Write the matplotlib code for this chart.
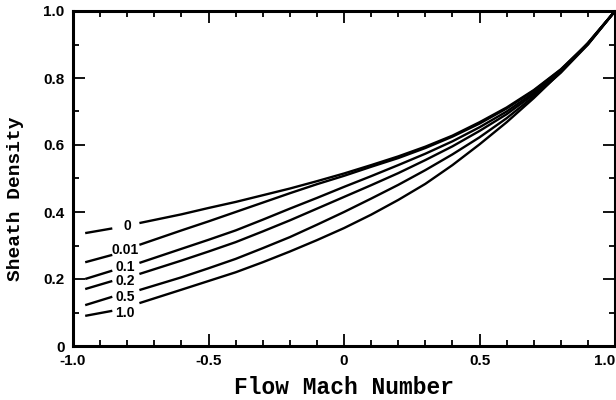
import numpy as np
import matplotlib.pyplot as plt
from matplotlib.ticker import MultipleLocator

# Mach number grid, nan marks the gap left for the curve labels
mach = [-0.955, -0.855, np.nan, -0.755, -0.6, -0.5, -0.4, -0.3, -0.2, -0.1, 0.0,
        0.1, 0.2, 0.3, 0.4, 0.5, 0.6, 0.7, 0.8, 0.9, 1.0]

n_0   = [0.337, 0.351, np.nan, 0.367, 0.393, 0.412, 0.430, 0.450, 0.470, 0.492, 0.515,
         0.540, 0.566, 0.595, 0.628, 0.668, 0.712, 0.764, 0.826, 0.904, 1.0]
n_001 = [0.250, 0.272, np.nan, 0.302, 0.345, 0.372, 0.400, 0.428, 0.456, 0.483, 0.508,
         0.535, 0.561, 0.591, 0.625, 0.664, 0.709, 0.762, 0.825, 0.903, 1.0]
n_01  = [0.200, 0.225, np.nan, 0.248, 0.290, 0.317, 0.345, 0.377, 0.410, 0.442, 0.475,
         0.507, 0.540, 0.574, 0.611, 0.653, 0.700, 0.756, 0.822, 0.902, 1.0]
n_02  = [0.170, 0.194, np.nan, 0.215, 0.255, 0.282, 0.310, 0.342, 0.375, 0.410, 0.445,
         0.480, 0.516, 0.555, 0.596, 0.642, 0.692, 0.751, 0.820, 0.901, 1.0]
n_05  = [0.122, 0.147, np.nan, 0.167, 0.205, 0.232, 0.260, 0.292, 0.325, 0.362, 0.400,
         0.440, 0.481, 0.525, 0.572, 0.623, 0.680, 0.745, 0.816, 0.900, 1.0]
n_10  = [0.090, 0.105, np.nan, 0.128, 0.168, 0.194, 0.220, 0.250, 0.282, 0.316, 0.352,
         0.392, 0.436, 0.484, 0.540, 0.602, 0.668, 0.740, 0.818, 0.905, 1.0]

krzywe = [n_0, n_001, n_01, n_02, n_05, n_10]
etykiety = ['0', '0.01', '0.1', '0.2', '0.5', '1.0']
# polozenie napisow przy krzywych
etyk_x = [-0.80, -0.807, -0.807, -0.807, -0.807, -0.807]
etyk_y = [0.359, 0.288, 0.236, 0.195, 0.146, 0.098]

xticks = [-1.0, -0.5, 0.0, 0.5, 1.0]
xticklabels = ['-1.0', '-0.5', '0', '0.5', '1.0']
yticks = [0.0, 0.2, 0.4, 0.6, 0.8, 1.0]
yticklabels = ['0', '0.2', '0.4', '0.6', '0.8', '1.0']

fig = plt.figure(figsize=(6.16, 4.0), dpi=100)
ax = fig.add_axes([0.1185, 0.135, 0.88, 0.8375])

for y in krzywe:
    ax.plot(mach, y, color='black', linewidth=1.7, solid_capstyle='butt')

for i in range(len(etykiety)):
    ax.text(etyk_x[i], etyk_y[i], etykiety[i], ha='center', va='center',
            fontsize=10, fontweight='bold', family='Liberation Sans')

ax.set_xlim(-1.0, 1.0)
ax.set_ylim(0.0, 1.0)
ax.set_xticks(xticks)
ax.set_xticklabels(xticklabels)
ax.set_yticks(yticks)
ax.set_yticklabels(yticklabels)
ax.xaxis.set_minor_locator(MultipleLocator(0.1))
ax.yaxis.set_minor_locator(MultipleLocator(0.1))

ax.tick_params(which='both', direction='in', top=True, right=True, width=1.3)
ax.tick_params(which='major', length=8.5, pad=6)
ax.tick_params(which='minor', length=4.5)
for lab in ax.get_xticklabels() + ax.get_yticklabels():
    lab.set_fontweight('bold')
    lab.set_family('Liberation Sans')
    lab.set_fontsize(11)
# ostatni napis przy prawej krawedzi
ax.get_xticklabels()[-1].set_horizontalalignment('right')

for s in ax.spines.values():
    s.set_linewidth(2.2)

ax.set_xlabel('Flow Mach Number', family='Liberation Mono', fontsize=16.5, fontweight='bold')
ax.set_ylabel('Sheath Density', family='Liberation Mono', fontsize=14, fontweight='bold')
ax.xaxis.set_label_coords(0.5, -0.09)
ax.yaxis.set_label_coords(-0.09, 0.44)

plt.savefig('out.png', dpi=100)
